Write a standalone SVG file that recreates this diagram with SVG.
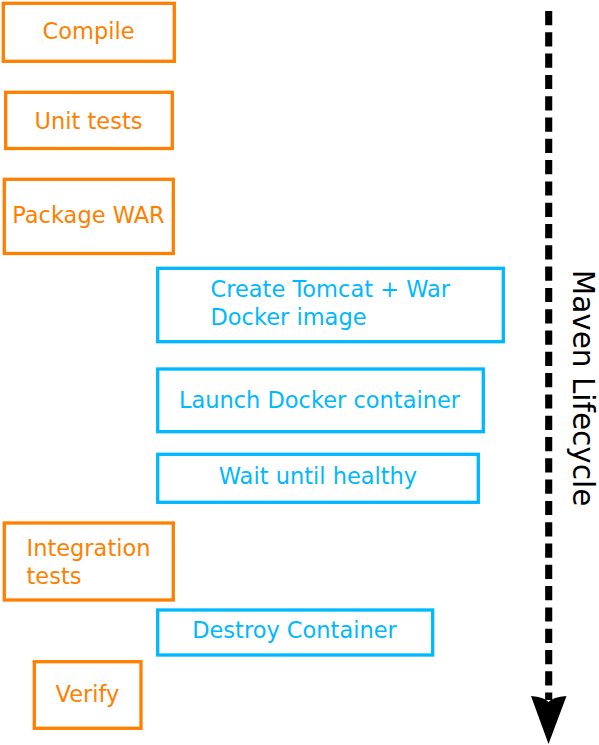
<svg xmlns="http://www.w3.org/2000/svg" width="599" height="745" viewBox="0 0 599 745">
<style>
text{font-family:"DejaVu Sans",Verdana,sans-serif;font-size:22.5px}
.o rect{fill:#fff;stroke:#ff7f00;stroke-width:3.3}
.o text{fill:#ff7f00}
.b rect{fill:#fff;stroke:#00b8ff;stroke-width:3.3}
.b text{fill:#00b8ff}
.c{text-anchor:middle}
</style>
<rect width="599" height="745" fill="#fff"/>
<g id="connectors">
<line x1="548.7" y1="11" x2="548.7" y2="700" stroke="#000" stroke-width="7.1" stroke-dasharray="14.2 7.1"/>
<path d="M531 696 Q544 697 548.5 702 Q553 697 566.5 696 L548.5 744 Z" fill="#000"/>
</g>
<g id="compile" class="o"><rect x="3.3" y="3.3" width="171" height="58"/><text class="c" x="88.5" y="39">Compile</text></g>
<g id="unit-tests" class="o"><rect x="5.7" y="92.3" width="166.6" height="56.2"/><text class="c" x="88.5" y="129">Unit tests</text></g>
<g id="package-war" class="o"><rect x="4.3" y="179.3" width="169" height="74.2"/><text class="c" x="88.5" y="223">Package WAR</text></g>
<g id="create-image" class="b"><rect x="157.7" y="268.3" width="345.6" height="73.4"/><text x="210.5" y="297">Create Tomcat + War</text><text x="210.5" y="325">Docker image</text></g>
<g id="launch" class="b"><rect x="157.7" y="369" width="325.6" height="62.7"/><text class="c" x="319.5" y="408">Launch Docker container</text></g>
<g id="wait" class="b"><rect x="157.7" y="454.3" width="320.6" height="48"/><text class="c" x="318" y="484">Wait until healthy</text></g>
<g id="integration-tests" class="o"><rect x="4.3" y="523" width="169" height="77"/><text x="26.5" y="556">Integration</text><text x="26.5" y="583.5">tests</text></g>
<g id="destroy" class="b"><rect x="157.7" y="610" width="275" height="45"/><text class="c" x="294.5" y="638">Destroy Container</text></g>
<g id="verify" class="o"><rect x="34.3" y="661.7" width="106.7" height="66.6"/><text class="c" x="87.5" y="702">Verify</text></g>
<g id="lifecycle-label"><text transform="translate(573 388) rotate(90)" text-anchor="middle" style="font-size:29.5px" fill="#000">Maven Lifecycle</text></g>
</svg>
